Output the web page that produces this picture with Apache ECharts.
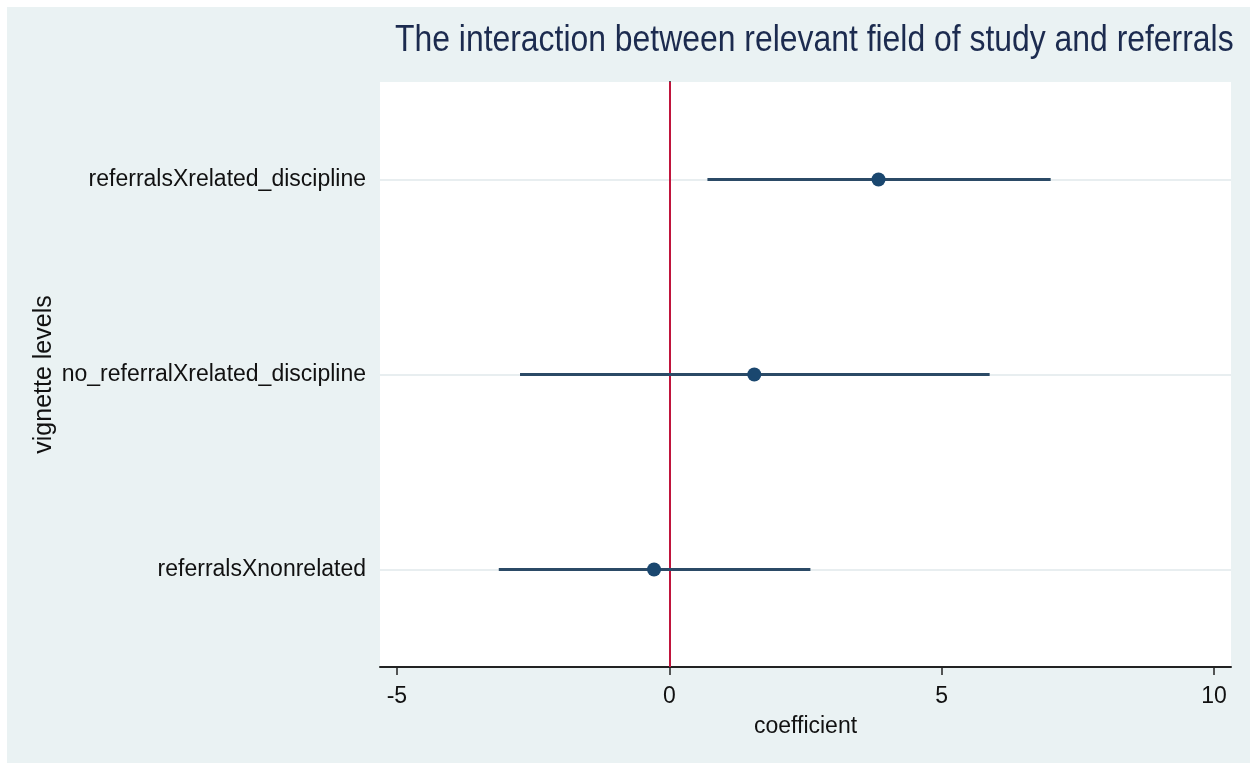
<!DOCTYPE html>
<html>
<head>
<meta charset="utf-8">
<script src="https://cdn.jsdelivr.net/npm/echarts@6/dist/echarts.min.js"></script>
<style>html,body{margin:0;padding:0;background:#fff;}#c{width:1250px;height:763px;}</style>
</head>
<body>
<div id="c"></div>
<script>
var categories = ['referralsXnonrelated', 'no_referralXrelated_discipline', 'referralsXrelated_discipline'];
var coef = [-0.28, 1.56, 3.84];
var ciLow = [-3.13, -2.74, 0.70];
var ciHigh = [2.59, 5.88, 7.00];
var xTicks = [-5, 0, 5, 10];
var titleText = 'The interaction between relevant field of study and referrals';

var FONT = '"Liberation Sans", Arial, sans-serif';
var chart = echarts.init(document.getElementById('c'));
var ciData = categories.map(function (c, i) { return [i, ciLow[i], ciHigh[i]]; });
var ptData = categories.map(function (c, i) { return [coef[i], c]; });

chart.setOption({
  animation: false,
  backgroundColor: '#ffffff',
  graphic: [{
    type: 'rect', left: 7, top: 7, z: -100,
    shape: { width: 1243, height: 756 },
    style: { fill: '#eaf2f3' }
  }, {
    type: 'text', x: 395, y: 23, scaleX: 0.886, scaleY: 1, originX: 0, originY: 0, z: 10,
    style: {
      text: titleText, fontFamily: FONT, fontSize: 36, fill: '#1c2b4f',
      align: 'left', verticalAlign: 'top'
    }
  }],
  grid: {
    left: 380, right: 19, top: 82, bottom: 96,
    show: true, backgroundColor: '#ffffff', borderWidth: 0
  },
  xAxis: {
    type: 'value', min: -5.31, max: 10.31,
    axisLine: { show: true, lineStyle: { color: '#222', width: 2 } },
    axisTick: { show: true, length: 8, lineStyle: { color: '#222', width: 1.5 }, customValues: xTicks },
    axisLabel: { customValues: xTicks, margin: 18, fontFamily: FONT, fontSize: 23, color: '#111' },
    splitLine: { show: false },
    name: 'coefficient', nameLocation: 'middle', nameGap: 48, nameMoveOverlap: false,
    nameTextStyle: { fontFamily: FONT, fontSize: 23, color: '#111' }
  },
  yAxis: {
    type: 'category', data: categories, boundaryGap: true,
    axisLine: { show: true, lineStyle: { color: '#222', width: 2 } },
    axisTick: { show: true, alignWithLabel: true, length: 8, lineStyle: { color: '#222', width: 1.5 } },
    axisLabel: { margin: 14, fontFamily: FONT, fontSize: 23, color: '#111' },
    splitLine: { show: false },
    name: 'vignette levels', nameLocation: 'middle', nameGap: 323, nameRotate: 90, nameMoveOverlap: false,
    nameTextStyle: { fontFamily: FONT, fontSize: 25, color: '#111' }
  },
  series: [
    {
      type: 'custom',
      data: ciData,
      renderItem: function (params, api) {
        var i = api.value(0);
        var p1 = api.coord([api.value(1), i]);
        var p2 = api.coord([api.value(2), i]);
        return { type: 'line', shape: { x1: p1[0], y1: p1[1], x2: p2[0], y2: p2[1] },
                 style: { stroke: '#2b4a66', lineWidth: 3 }, z2: 5 };
      },
      encode: { x: [1, 2], y: 0 },
      z: 5,
      markLine: {
        silent: true, symbol: 'none', label: { show: false },
        lineStyle: { color: '#e8eef0', width: 2, type: 'solid' },
        data: categories.map(function (c) { return { yAxis: c }; }),
        z: 1
      }
    },
    {
      type: 'scatter',
      data: ptData,
      symbol: 'circle', symbolSize: 14,
      itemStyle: { color: '#1a476f', opacity: 1 },
      z: 10,
      markLine: {
        silent: true, symbol: 'none', label: { show: false },
        lineStyle: { color: '#c0143c', width: 2, type: 'solid' },
        data: [{ xAxis: 0 }]
      }
    }
  ]
});
</script>
</body>
</html>
